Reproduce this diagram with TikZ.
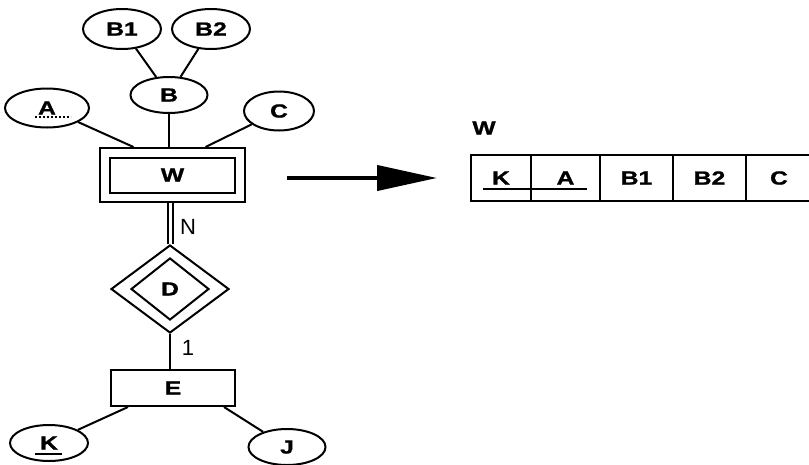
\documentclass[tikz,border=0pt]{standalone}
\usepackage{fontspec}
\setmainfont{Liberation Sans}
\newfontfamily\labfont[FakeStretch=1.3,FakeBold=1.2]{Liberation Sans}
\usetikzlibrary{shapes.geometric,arrows.meta}
\tikzset{
  every node/.style={font=\labfont\fontsize{19}{22}\selectfont\bfseries, inner sep=0pt},
  attr/.style={draw, ellipse, line width=2pt},
  ent/.style={draw, rectangle, line width=2pt},
  rel/.style={draw, diamond, line width=2pt},
  conn/.style={line width=2pt},
  cell/.style={draw, rectangle, line width=2pt, minimum height=46pt},
  card/.style={font=\rmfamily\fontsize{22}{26}\selectfont\mdseries}
}
\begin{document}
\begin{tikzpicture}[x=1pt,y=-1pt]
\useasboundingbox (0,0) rectangle (809,464);
% ER diagram
\node[attr, minimum width=78pt, minimum height=40pt] (B1) at (122,29) {B1};
\node[attr, minimum width=78pt, minimum height=40pt] (B2) at (211,29) {B2};
\node[attr, minimum width=77pt, minimum height=36pt] (B) at (169,95) {B};
\node[attr, minimum width=84pt, minimum height=39pt] (A) at (47,108) {A};
\node[attr, minimum width=70pt, minimum height=39pt] (C) at (279,111) {C};
\node[ent, minimum width=145pt, minimum height=54pt] (Wo) at (172.5,175) {};
\node[ent, minimum width=125pt, minimum height=35pt] (Wi) at (172.5,175) {W};
\node[rel, minimum width=118pt, minimum height=88pt] (D) at (170,289) {};
\node[rel, minimum width=78pt, minimum height=62pt] (Di) at (170,289) {D};
\node[ent, minimum width=124pt, minimum height=36pt] (E) at (173,388) {E};
\node[attr, minimum width=78pt, minimum height=36pt] (K) at (49,443) {K};
\node[attr, minimum width=77pt, minimum height=36pt] (J) at (287,447) {J};
\node[card] (N) at (188,227) {N};
\node[card] (one) at (188,348) {1};
% underlines of keys
\coordinate (Au1) at (35,117); \coordinate (Au2) at (71,117);
\draw[line width=2pt, dash pattern=on 2pt off 2pt] (Au1) -- (Au2);
\coordinate (Ku1) at (35,454); \coordinate (Ku2) at (62,454);
\draw[line width=2pt] (Ku1) -- (Ku2);
% connectors
\draw[conn] (B1) -- (B);
\draw[conn] (B2) -- (B);
\draw[conn] (A) -- ([xshift=-39pt]Wo.north);
\draw[conn] (B) -- (B |- Wo.north);
\draw[conn] (C) -- ([xshift=33pt]Wo.north);
\draw[line width=2pt, double, double distance=3pt] (Wo.south -| D) -- (D.north);
\draw[conn] (D.south) -- (D.south |- E.north);
\draw[conn] (K) -- ([xshift=-45pt]E.south);
\draw[conn] (J) -- ([xshift=51pt]E.south);
% arrow
\coordinate (ar1) at (287,178);
\coordinate (ar2) at (437,178);
\draw[line width=4pt, -{Triangle[length=60pt,width=25pt]}] (ar1) -- (ar2);
% relation table
\node (Wlab) at (484,128) {W};
\node[cell, minimum width=60pt] (tK) at (501,178) {K};
\node[cell, minimum width=69pt] (tA) at (565.5,178) {A};
\node[cell, minimum width=73pt] (tB1) at (636.5,178) {B1};
\node[cell, minimum width=73pt] (tB2) at (709.5,178) {B2};
\node[cell, minimum width=66pt] (tC) at (779,178) {C};
\coordinate (tu1) at (483,189); \coordinate (tu2) at (587,189);
\draw[line width=2pt] (tu1) -- (tu2);
\end{tikzpicture}
\end{document}
